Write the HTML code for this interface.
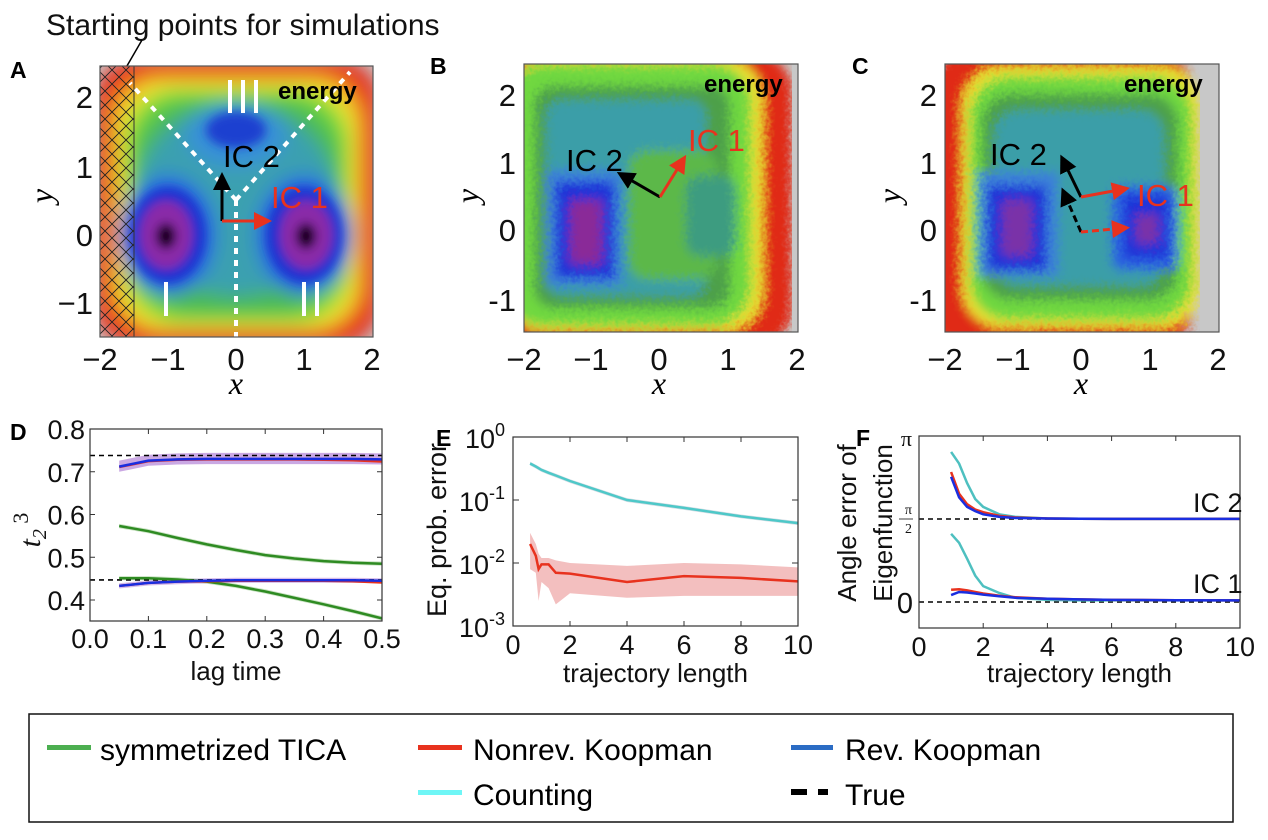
<!DOCTYPE html>
<html><head><meta charset="utf-8">
<style>
html,body{margin:0;padding:0;background:#fff;}
svg{display:block;font-family:"Liberation Sans","DejaVu Sans",sans-serif;}
.tk{font-size:31px;fill:#111;}
</style></head><body>
<svg id="fig" width="1268" height="840" viewBox="0 0 1268 840" xmlns="http://www.w3.org/2000/svg">
<defs>
<filter id="bl" x="-20%" y="-20%" width="140%" height="140%"><feGaussianBlur stdDeviation="9"/></filter>
<filter id="bl2" x="-20%" y="-20%" width="140%" height="140%"><feGaussianBlur stdDeviation="5"/></filter>
<filter id="noisy" x="0" y="0" width="100%" height="100%">
<feTurbulence type="fractalNoise" baseFrequency="0.25" numOctaves="2" result="n"/>
<feDisplacementMap in="SourceGraphic" in2="n" scale="10"/>
</filter>
<pattern id="hatch" width="14" height="14" patternUnits="userSpaceOnUse">
<path d="M0,0 L14,14 M14,0 L0,14" stroke="#222" stroke-width="0.9"/>
</pattern>
<clipPath id="clipA"><rect x="100" y="66" width="273" height="271"/></clipPath>
<clipPath id="clipB"><rect x="524" y="64" width="274" height="268"/></clipPath>
<clipPath id="clipC"><rect x="945" y="64" width="274" height="268"/></clipPath>
<marker id="ah" markerWidth="6" markerHeight="6" refX="4" refY="3" orient="auto"><path d="M0,0 L6,3 L0,6 z" fill="#000"/></marker>
<marker id="ahr" markerWidth="6" markerHeight="6" refX="4" refY="3" orient="auto"><path d="M0,0 L6,3 L0,6 z" fill="#e8321e"/></marker>
</defs>

<!-- Panel A -->
<g>
<text x="46" y="35" font-size="30" fill="#111">Starting points for simulations</text>
<line x1="142" y1="40" x2="120" y2="78" stroke="#000" stroke-width="1.5" marker-end="url(#ah)"/>
<text x="10" y="78" font-size="23" font-weight="bold">A</text>
<g clip-path="url(#clipA)">
<rect x="100" y="66" width="273" height="271" fill="#c8c8c8"/>
<g filter="url(#bl)">
<rect x="94" y="58" width="286" height="289" rx="45" fill="#e52a1c"/>
<rect x="110" y="74" width="254" height="258" rx="45" fill="#f2a020"/>
<rect x="118" y="82" width="238" height="246" rx="48" fill="#e8e830"/>
<rect x="126" y="90" width="222" height="232" rx="55" fill="#6ad43c"/>
<rect x="136" y="102" width="202" height="210" rx="60" fill="#48b858"/>
<ellipse cx="236" cy="200" rx="100" ry="95" fill="#3aa0b0"/>
<ellipse cx="236" cy="135" rx="50" ry="32" fill="#3890d8"/>
<ellipse cx="168" cy="235" rx="48" ry="60" fill="#2a6ee0"/>
<ellipse cx="304" cy="235" rx="48" ry="60" fill="#2a6ee0"/>
</g>
<g filter="url(#bl2)">
<ellipse cx="236" cy="130" rx="30" ry="18" fill="#1a40d0"/>
<ellipse cx="168" cy="235" rx="38" ry="48" fill="#1a30d0"/>
<ellipse cx="304" cy="235" rx="38" ry="48" fill="#1a30d0"/>
<ellipse cx="166" cy="235" rx="26" ry="34" fill="#8a2aa8"/>
<ellipse cx="306" cy="235" rx="26" ry="34" fill="#8a2aa8"/>
<ellipse cx="166" cy="236" rx="10" ry="13" fill="#100010"/>
<ellipse cx="306" cy="236" rx="10" ry="13" fill="#100010"/>
</g>
<rect x="100" y="66" width="34" height="271" fill="url(#hatch)"/>
<line x1="134" y1="66" x2="134" y2="337" stroke="#333" stroke-width="1"/>
<g stroke="#fff" stroke-width="4" stroke-dasharray="6 6" fill="none">
<line x1="236" y1="200" x2="130" y2="83"/>
<line x1="236" y1="200" x2="350" y2="72"/>
<line x1="236" y1="200" x2="236" y2="337"/>
</g>
<g fill="#fff">
<rect x="228" y="80" width="4" height="33"/><rect x="241" y="80" width="4" height="33"/><rect x="254" y="80" width="4" height="33"/>
<rect x="164" y="282" width="4" height="34"/>
<rect x="302" y="282" width="4" height="34"/><rect x="315" y="282" width="4" height="34"/>
</g>
</g>
<rect x="100" y="66" width="273" height="271" fill="none" stroke="#555" stroke-width="1.2"/>
<text x="278" y="99" font-size="24" font-weight="bold">energy</text>
<line x1="222" y1="221" x2="222" y2="178" stroke="#000" stroke-width="3" marker-end="url(#ah)"/>
<line x1="222" y1="221" x2="266" y2="221" stroke="#e8321e" stroke-width="3" marker-end="url(#ahr)"/>
<text x="223" y="167" font-size="31" fill="#000">IC 2</text>
<text x="271" y="208" font-size="31" fill="#e8321e">IC 1</text>
<g class="tk" text-anchor="end">
<text x="93" y="108">2</text><text x="93" y="178">1</text><text x="93" y="246">0</text><text x="93" y="314">−1</text>
</g>
<g class="tk" text-anchor="middle">
<text x="100" y="370">−2</text><text x="168" y="370">−1</text><text x="236" y="370">0</text><text x="304" y="370">1</text><text x="372" y="370">2</text>
</g>
<text x="236" y="394" font-size="32" font-style="italic" font-family="Liberation Serif,serif" text-anchor="middle">x</text>
<text x="52" y="196" font-size="32" font-style="italic" font-family="Liberation Serif,serif" text-anchor="middle" transform="rotate(-90 52 196)">y</text>
</g>

<!-- Panel B -->
<g>
<text x="430" y="74" font-size="23" font-weight="bold">B</text>
<g clip-path="url(#clipB)">
<rect x="524" y="64" width="274" height="268" fill="#c8c8c8"/>
<g filter="url(#noisy)"><g filter="url(#bl2)">
<rect x="500" y="52" width="292" height="296" rx="40" fill="#e02a18"/>
<rect x="505" y="58" width="258" height="274" rx="40" fill="#e8e030"/>
<rect x="505" y="64" width="246" height="262" rx="40" fill="#70d840"/>
<rect x="534" y="86" width="196" height="222" rx="20" fill="#4ea048"/>
<rect x="546" y="100" width="160" height="196" rx="16" fill="#3a9ea8"/>
<rect x="628" y="150" width="90" height="130" rx="20" fill="#5cb848"/>
<rect x="686" y="176" width="50" height="80" rx="14" fill="#3c9c80"/>
<rect x="546" y="170" width="76" height="116" fill="#3a80d8"/>
<rect x="556" y="182" width="58" height="96" fill="#1a30d8"/>
<rect x="570" y="200" width="32" height="64" fill="#8a2a98"/>
</g></g>
</g>
<rect x="524" y="64" width="274" height="268" fill="none" stroke="#555" stroke-width="1.2"/>
<text x="704" y="92" font-size="24" font-weight="bold">energy</text>
<line x1="660" y1="197" x2="622" y2="175" stroke="#000" stroke-width="3" marker-end="url(#ah)"/>
<line x1="660" y1="197" x2="683" y2="160" stroke="#e8321e" stroke-width="3" marker-end="url(#ahr)"/>
<text x="566" y="171" font-size="31" fill="#000">IC 2</text>
<text x="688" y="151" font-size="31" fill="#e8321e">IC 1</text>
<g class="tk" text-anchor="end">
<text x="516" y="106">2</text><text x="516" y="174">1</text><text x="516" y="241">0</text><text x="516" y="311">-1</text>
</g>
<g class="tk" text-anchor="middle">
<text x="524" y="370">−2</text><text x="591" y="370">−1</text><text x="659" y="370">0</text><text x="728" y="370">1</text><text x="797" y="370">2</text>
</g>
<text x="659" y="394" font-size="32" font-style="italic" font-family="Liberation Serif,serif" text-anchor="middle">x</text>
<text x="478" y="196" font-size="32" font-style="italic" font-family="Liberation Serif,serif" text-anchor="middle" transform="rotate(-90 478 196)">y</text>
</g>

<!-- Panel C -->
<g>
<text x="852" y="74" font-size="23" font-weight="bold">C</text>
<g clip-path="url(#clipC)">
<rect x="945" y="64" width="274" height="268" fill="#c8c8c8"/>
<g filter="url(#noisy)"><g filter="url(#bl2)">
<rect x="930" y="50" width="262" height="300" rx="40" fill="#e02a18"/>
<rect x="962" y="66" width="238" height="262" rx="40" fill="#e8e030"/>
<rect x="970" y="76" width="222" height="244" rx="40" fill="#70d840"/>
<rect x="982" y="94" width="196" height="206" rx="30" fill="#4ea048"/>
<rect x="994" y="110" width="170" height="176" rx="24" fill="#3a9ea8"/>
<rect x="978" y="172" width="80" height="104" fill="#3a80d8"/>
<rect x="988" y="186" width="58" height="84" fill="#1a30d8"/>
<rect x="1002" y="200" width="30" height="56" fill="#7a30a8"/>
<rect x="1112" y="186" width="66" height="84" rx="10" fill="#2a60e0"/>
<rect x="1124" y="196" width="44" height="62" fill="#1a30d8"/>
<rect x="1136" y="214" width="22" height="30" fill="#7a30a8"/>
</g></g>
</g>
<rect x="945" y="64" width="274" height="268" fill="none" stroke="#555" stroke-width="1.2"/>
<text x="1124" y="92" font-size="24" font-weight="bold">energy</text>
<line x1="1081" y1="197" x2="1063" y2="160" stroke="#000" stroke-width="3" marker-end="url(#ah)"/>
<line x1="1081" y1="197" x2="1124" y2="189" stroke="#e8321e" stroke-width="3" marker-end="url(#ahr)"/>
<line x1="1081" y1="232" x2="1064" y2="193" stroke="#000" stroke-width="3" stroke-dasharray="7 4" marker-end="url(#ah)"/>
<line x1="1081" y1="232" x2="1124" y2="228" stroke="#e8321e" stroke-width="3" stroke-dasharray="7 4" marker-end="url(#ahr)"/>
<text x="990" y="165" font-size="31" fill="#000">IC 2</text>
<text x="1137" y="206" font-size="31" fill="#e8321e">IC 1</text>
<g class="tk" text-anchor="end">
<text x="937" y="106">2</text><text x="937" y="174">1</text><text x="937" y="241">0</text><text x="937" y="311">-1</text>
</g>
<g class="tk" text-anchor="middle">
<text x="945" y="370">−2</text><text x="1013" y="370">−1</text><text x="1081" y="370">0</text><text x="1150" y="370">1</text><text x="1218" y="370">2</text>
</g>
<text x="1081" y="394" font-size="32" font-style="italic" font-family="Liberation Serif,serif" text-anchor="middle">x</text>
<text x="900" y="196" font-size="32" font-style="italic" font-family="Liberation Serif,serif" text-anchor="middle" transform="rotate(-90 900 196)">y</text>
</g>

<g id="charts"></g>

<!-- Legend -->
<g>
<rect x="29" y="714" width="1204" height="108" fill="#fff" stroke="#111" stroke-width="1.5"/>
<g><rect x="47" y="745" width="44" height="5" fill="#4caf50"/><text x="100" y="760" font-size="30">symmetrized TICA</text></g>
<g><rect x="418" y="745" width="44" height="5" fill="#e8321e"/><text x="473" y="760" font-size="30">Nonrev. Koopman</text></g>
<g><rect x="791" y="745" width="42" height="5" fill="#2b6cc4"/><text x="845" y="760" font-size="30">Rev. Koopman</text></g>
<g><rect x="418" y="790" width="44" height="5" fill="#6ff6f6"/><text x="473" y="805" font-size="30">Counting</text></g>
<g><rect x="791" y="789" width="16" height="6" fill="#000"/><rect x="818" y="789" width="10" height="6" fill="#000"/><text x="845" y="805" font-size="30">True</text></g>
</g>
</svg>
<script>
// ---- Panel D data ----
const dLag=[0.05,0.1,0.15,0.2,0.25,0.3,0.35,0.4,0.45,0.5];
const dRevUp=[0.712,0.726,0.729,0.730,0.730,0.730,0.730,0.730,0.730,0.729];
const dNonUp=[0.711,0.725,0.728,0.729,0.729,0.729,0.729,0.728,0.727,0.724];
const dTicaUp=[0.573,0.561,0.545,0.530,0.517,0.505,0.497,0.491,0.487,0.485];
const dTicaLo=[0.451,0.451,0.448,0.443,0.433,0.420,0.405,0.390,0.374,0.357];
const dRevLo=[0.433,0.440,0.443,0.445,0.446,0.446,0.446,0.446,0.446,0.445];
const dNonLo=[0.433,0.440,0.443,0.444,0.445,0.445,0.445,0.445,0.444,0.441];
const dTrue=[0.738,0.447];
const dXTicks=[0,0.1,0.2,0.3,0.4,0.5];
const dYTicks=[0.4,0.5,0.6,0.7,0.8];
// ---- Panel E data ----
const eLen=[0.6,0.8,0.9,1,1.25,1.5,2,4,6,8,10];
const eCount=[0.38,0.34,0.32,0.30,0.27,0.245,0.20,0.10,0.075,0.055,0.043];
const eNonrev=[0.020,0.013,0.008,0.0095,0.0095,0.007,0.0068,0.005,0.0062,0.0058,0.0051];
const eNonrevHi=[0.030,0.020,0.014,0.012,0.012,0.011,0.010,0.009,0.010,0.0095,0.0085];
const eNonrevLo=[0.008,0.007,0.0025,0.005,0.004,0.0022,0.0033,0.0028,0.003,0.003,0.003];
const eXTicks=[0,2,4,6,8,10];
const eYExp=[0,-1,-2,-3];
// ---- Panel F data ----
const fLen=[1,1.25,1.5,1.75,2,2.5,3,4,5,6,8,10];
const fIc2Count=[2.84,2.62,2.25,1.95,1.80,1.66,1.61,1.58,1.575,1.573,1.572,1.572];
const fIc2Nonrev=[2.46,2.05,1.85,1.75,1.70,1.63,1.60,1.58,1.575,1.573,1.572,1.572];
const fIc2Rev=[2.37,1.98,1.80,1.72,1.66,1.61,1.59,1.58,1.575,1.573,1.572,1.572];
const fIc1Count=[1.29,1.12,0.82,0.50,0.30,0.17,0.08,0.04,0.03,0.03,0.03,0.03];
const fIc1Nonrev=[0.23,0.24,0.22,0.19,0.16,0.12,0.09,0.06,0.05,0.04,0.035,0.03];
const fIc1Rev=[0.13,0.19,0.18,0.16,0.14,0.11,0.08,0.06,0.05,0.04,0.035,0.03];
const fTrue=[Math.PI/2,0];
const fXTicks=[0,2,4,6,8,10];

const NS='http://www.w3.org/2000/svg';
const root=document.getElementById('charts');
function mk(tag,attrs,parent){const e=document.createElementNS(NS,tag);for(const k in attrs)e.setAttribute(k,attrs[k]);(parent||root).appendChild(e);return e;}
function pathD(xs,ys,X,Y){return xs.map((x,i)=>(i?'L':'M')+X(x).toFixed(1)+','+Y(ys[i]).toFixed(1)).join(' ');}
function bandD(xs,lo,hi,X,Y){let d=xs.map((x,i)=>(i?'L':'M')+X(x).toFixed(1)+','+Y(hi[i]).toFixed(1)).join(' ');for(let i=xs.length-1;i>=0;i--)d+=' L'+X(xs[i]).toFixed(1)+','+Y(lo[i]).toFixed(1);return d+' Z';}
function line(xs,ys,X,Y,color,name,w){const p=mk('path',{d:pathD(xs,ys,X,Y),fill:'none',stroke:color,'stroke-width':w||2.5});

return p;}
function band(xs,lo,hi,X,Y,color,op,name){const p=mk('path',{d:bandD(xs,lo,hi,X,Y),fill:color,'fill-opacity':op,stroke:'none'});

return p;}
function txt(x,y,s,attrs,name){const t=mk('text',Object.assign({x:x,y:y},attrs||{}));t.textContent=s;

return t;}
function off(a,d){return a.map(v=>v+d);}

// ---------- Panel D ----------
(function(){
const L=90,R=382,T=429,B=621;
const X=v=>L+v/0.5*(R-L), Y=v=>T+(0.8-v)/0.1*42.75;
txt(10,440,'D',{'font-size':23,'font-weight':'bold'},'panel-label-d');
band(dLag,off(dRevUp,-0.012),off(dRevUp,0.014),X,Y,'#8a3fc0',0.45,'band-rev-upper');
band(dLag,off(dTicaUp,-0.005),off(dTicaUp,0.005),X,Y,'#4c9f38',0.3,'band-tica-upper');
band(dLag,off(dTicaLo,-0.005),off(dTicaLo,0.005),X,Y,'#4c9f38',0.3,'band-tica-lower');
band(dLag,off(dRevLo,-0.006),off(dRevLo,0.006),X,Y,'#8a3fc0',0.35,'band-rev-lower');
dTrue.forEach((v,i)=>{const l=mk('line',{x1:L,x2:R,y1:Y(v),y2:Y(v),stroke:'#000','stroke-width':1.6,'stroke-dasharray':'5 4'});

});
line(dLag,dTicaUp,X,Y,'#2e8b22','tica-line-upper');
line(dLag,dTicaLo,X,Y,'#2e8b22','tica-line-lower');
line(dLag,dNonUp,X,Y,'#e8321e','nonrev-line-upper');
line(dLag,dNonLo,X,Y,'#e8321e','nonrev-line-lower');
line(dLag,dRevUp,X,Y,'#1a2ee0','rev-line-upper');
line(dLag,dRevLo,X,Y,'#1a2ee0','rev-line-lower');
const fr=mk('rect',{x:L,y:T,width:R-L,height:B-T,fill:'none',stroke:'#333','stroke-width':1.2});


dXTicks.forEach(v=>{mk('line',{x1:X(v),x2:X(v),y1:T,y2:T+5,stroke:'#333'});mk('line',{x1:X(v),x2:X(v),y1:B,y2:B-5,stroke:'#333'});
txt(X(v),B+27,v.toFixed(1),{'font-size':27,'text-anchor':'middle',fill:'#111'},'x-tick-d');});
dYTicks.forEach(v=>{mk('line',{x1:L,x2:L+5,y1:Y(v),y2:Y(v),stroke:'#333'});mk('line',{x1:R,x2:R-5,y1:Y(v),y2:Y(v),stroke:'#333'});
txt(L-5,Y(v)+10,v.toFixed(1),{'font-size':27,'text-anchor':'end',fill:'#111'},'y-tick-d');});
txt(X(0.25),680,'lag time',{'font-size':26,'text-anchor':'middle',fill:'#111'},'x-axis-title-d');
const yt=txt(0,0,'',{'font-size':30,'font-style':'italic','font-family':'Liberation Serif,serif',transform:'translate(40 530) rotate(-90)','text-anchor':'middle',fill:'#111'},'y-axis-title-d');
yt.innerHTML='t<tspan font-size="20" dy="6">2</tspan><tspan dy="-18" font-size="22" font-style="normal"> 3</tspan>';
})();

// ---------- Panel E ----------
(function(){
const L=513,R=798,T=437,B=626;
const X=v=>L+v*(R-L)/10, Y=v=>T+(-Math.log10(v))*63;
txt(436,446,'E',{'font-size':23,'font-weight':'bold'},'panel-label-e');
band(eLen,eNonrevLo,eNonrevHi,X,Y,'#e88080',0.5,'band-nonrev-e');
band(eLen,eCount.map(v=>v*0.93),eCount.map(v=>v*1.07),X,Y,'#9ab',0.4,'band-counting-e');
line(eLen,eCount,X,Y,'#4ec8c8','counting-line-e');
line(eLen,eNonrev,X,Y,'#e8321e','nonrev-line-e');
const fr=mk('rect',{x:L,y:T,width:R-L,height:B-T,fill:'none',stroke:'#333','stroke-width':1.2});


eXTicks.forEach(v=>{mk('line',{x1:X(v),x2:X(v),y1:T,y2:T+5,stroke:'#333'});mk('line',{x1:X(v),x2:X(v),y1:B,y2:B-5,stroke:'#333'});
txt(X(v),B+28,String(v),{'font-size':27,'text-anchor':'middle',fill:'#111'},'x-tick-e');});
eYExp.forEach(e=>{const y=Y(Math.pow(10,e));mk('line',{x1:L,x2:L+6,y1:y,y2:y,stroke:'#333'});mk('line',{x1:R,x2:R-6,y1:y,y2:y,stroke:'#333'});
const t=txt(L-8,y+11,'',{'font-size':27,'text-anchor':'end',fill:'#111'},'y-tick-e');
t.innerHTML='10<tspan font-size="18" dy="-12">'+e+'</tspan>';});
txt(X(5),682,'trajectory length',{'font-size':26,'text-anchor':'middle',fill:'#111'},'x-axis-title-e');
txt(0,0,'Eq. prob. error',{'font-size':27,'text-anchor':'middle',fill:'#111',transform:'translate(446 530) rotate(-90)'},'y-axis-title-e');
})();

// ---------- Panel F ----------
(function(){
const L=919,R=1240,T=436,B=628;
const X=v=>L+v*(R-L)/10, Y=v=>602-v/(Math.PI/2)*83;
txt(856,446,'F',{'font-size':23,'font-weight':'bold'},'panel-label-f');
fTrue.forEach((v,i)=>{const l=mk('line',{x1:L,x2:R,y1:Y(v),y2:Y(v),stroke:'#000','stroke-width':1.6,'stroke-dasharray':'5 4'});

});
line(fLen,fIc2Count,X,Y,'#4ec0c0','counting-line-ic2');
line(fLen,fIc2Nonrev,X,Y,'#e8321e','nonrev-line-ic2');
line(fLen,fIc2Rev,X,Y,'#1a2ee0','rev-line-ic2');
line(fLen,fIc1Count,X,Y,'#4ec0c0','counting-line-ic1');
line(fLen,fIc1Nonrev,X,Y,'#e8321e','nonrev-line-ic1');
line(fLen,fIc1Rev,X,Y,'#1a2ee0','rev-line-ic1');
const fr=mk('rect',{x:L,y:T,width:R-L,height:B-T,fill:'none',stroke:'#333','stroke-width':1.2});


fXTicks.forEach(v=>{mk('line',{x1:X(v),x2:X(v),y1:T,y2:T+5,stroke:'#333'});mk('line',{x1:X(v),x2:X(v),y1:B,y2:B-5,stroke:'#333'});
txt(X(v),B+28,String(v),{'font-size':27,'text-anchor':'middle',fill:'#111'},'x-tick-f');});
txt(912,446,'π',{'font-size':22,'text-anchor':'end','font-family':'Liberation Serif,serif',fill:'#111'},'y-tick-pi');
txt(912,514,'π',{'font-size':14,'text-anchor':'end','font-family':'Liberation Serif,serif',fill:'#111'},'y-tick-half-pi-num');
mk('line',{x1:899,x2:913,y1:519,y2:519,stroke:'#111','stroke-width':0.8});
txt(912,533,'2',{'font-size':14,'text-anchor':'end','font-family':'Liberation Serif,serif',fill:'#111'},'y-tick-half-pi-den');
txt(913,613,'0',{'font-size':29,'text-anchor':'end',fill:'#111'},'y-tick-zero');
txt(1193,512,'IC 2',{'font-size':27,fill:'#111'},'ic2-curve-label');
txt(1193,593,'IC 1',{'font-size':27,fill:'#111'},'ic1-curve-label');
txt(X(5),682,'trajectory length',{'font-size':26,'text-anchor':'middle',fill:'#111'},'x-axis-title-f');
txt(0,0,'Angle error of',{'font-size':26,'text-anchor':'middle',fill:'#111',transform:'translate(856 523) rotate(-90)'},'y-axis-title-f-line1');
txt(0,0,'Eigenfunction',{'font-size':26,'text-anchor':'middle',fill:'#111',transform:'translate(892 523) rotate(-90)'},'y-axis-title-f-line2');
})();
</script>
</body></html>
